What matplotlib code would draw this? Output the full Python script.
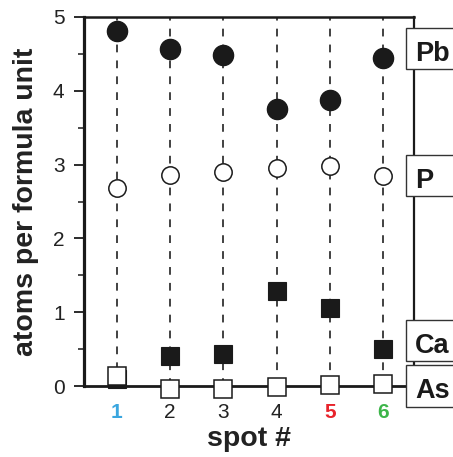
import numpy as np
import matplotlib
matplotlib.use("Agg")
import matplotlib.pyplot as plt
import matplotlib.transforms as mtransforms
from matplotlib.patches import Rectangle

plt.rcParams['font.family'] = ['Liberation Sans', 'DejaVu Sans']

# spot numbers and atoms per formula unit
spots = [1, 2, 3, 4, 5, 6]
pb = [4.81, 4.57, 4.49, 3.76, 3.88, 4.45]
p = [2.68, 2.86, 2.90, 2.95, 2.98, 2.85]
ca = [0.09, 0.40, 0.44, 1.29, 1.06, 0.50]
as_ = [0.14, -0.04, -0.04, -0.01, 0.01, 0.03]

spot_labels = ["1", "2", "3", "4", "5", "6"]
spot_colors = ["#3aa6df", "#222222", "#222222", "#222222", "#e8232b", "#3db54a"]
spot_weights = ["bold", "normal", "normal", "normal", "bold", "bold"]

# element tags on the right edge
tags = ["Pb", "P", "Ca", "As"]
tag_y = [4.57, 2.85, 0.61, 0.0]

fig = plt.figure(figsize=(4.53, 4.57), dpi=100)
ax = fig.add_axes([84/453, 1-386/457, 330/453, 369/457])

# dashed guide lines for each spot
for s in spots:
    ax.plot([s, s], [0, 5], color="#333333", lw=1.3,
            linestyle=(0, (4.3, 4.5)), zorder=1)

ax.plot(spots, pb, 'o', ms=14.5, mfc="#1a1a1a", mec="#1a1a1a", mew=1,
        ls="none", zorder=3, clip_on=False)
ax.plot(spots, p, 'o', ms=12.5, mfc="white", mec="#1a1a1a", mew=1.1,
        ls="none", zorder=3, clip_on=False)
ax.plot(spots, ca, 's', ms=13.5, mfc="#1a1a1a", mec="#1a1a1a", mew=0.8,
        ls="none", zorder=3, clip_on=False)
ax.plot(spots, as_, 's', ms=12.5, mfc="white", mec="#1a1a1a", mew=1.1,
        ls="none", zorder=4, clip_on=False)

ax.set_xlim(0.38, 6.58)
ax.set_ylim(0, 5)

for side in ["left", "right", "top", "bottom"]:
    ax.spines[side].set_color("#1a1a1a")
ax.spines["left"].set_linewidth(2.3)
ax.spines["bottom"].set_linewidth(2.0)
ax.spines["top"].set_linewidth(1.8)
ax.spines["right"].set_linewidth(1.6)

ax.set_yticks([0, 1, 2, 3, 4, 5])
ax.set_yticks(np.arange(0.5, 5, 1.0), minor=True)
ax.tick_params(axis='y', which='major', direction='out', length=7, width=1.3,
               color="#1a1a1a", labelsize=15, labelcolor="#222222", pad=7)
ax.tick_params(axis='y', which='minor', direction='out', length=4, width=1.1,
               color="#1a1a1a")

ax.set_xticks(spots)
ax.set_xticklabels(spot_labels)
ax.tick_params(axis='x', length=0, labelsize=15, pad=12)
for lbl, c, w in zip(ax.get_xticklabels(), spot_colors, spot_weights):
    lbl.set_color(c)
    lbl.set_fontweight(w)

ax.set_xlabel("spot #", fontsize=20.5, fontweight="bold", color="#222222",
              labelpad=3)
ax.set_ylabel("atoms per formula unit", fontsize=20.5, fontweight="bold",
              color="#222222", labelpad=10)

# element name boxes sitting over the right spine
trans = mtransforms.blended_transform_factory(ax.transAxes, ax.transData)
box_h = 0.556
for t, y in zip(tags, tag_y):
    ax.add_patch(Rectangle((0.975, y - box_h / 2), 0.3, box_h, transform=trans,
                           fc="white", ec="#333333", lw=1.0, zorder=6,
                           clip_on=False))
    ax.text(1.003, y - 0.165, t, transform=trans, ha="left", va="baseline",
            fontsize=19.5, fontweight="bold", color="#1a1a1a", zorder=7,
            clip_on=False)

plt.savefig("out.png", dpi=100)
plt.close()
